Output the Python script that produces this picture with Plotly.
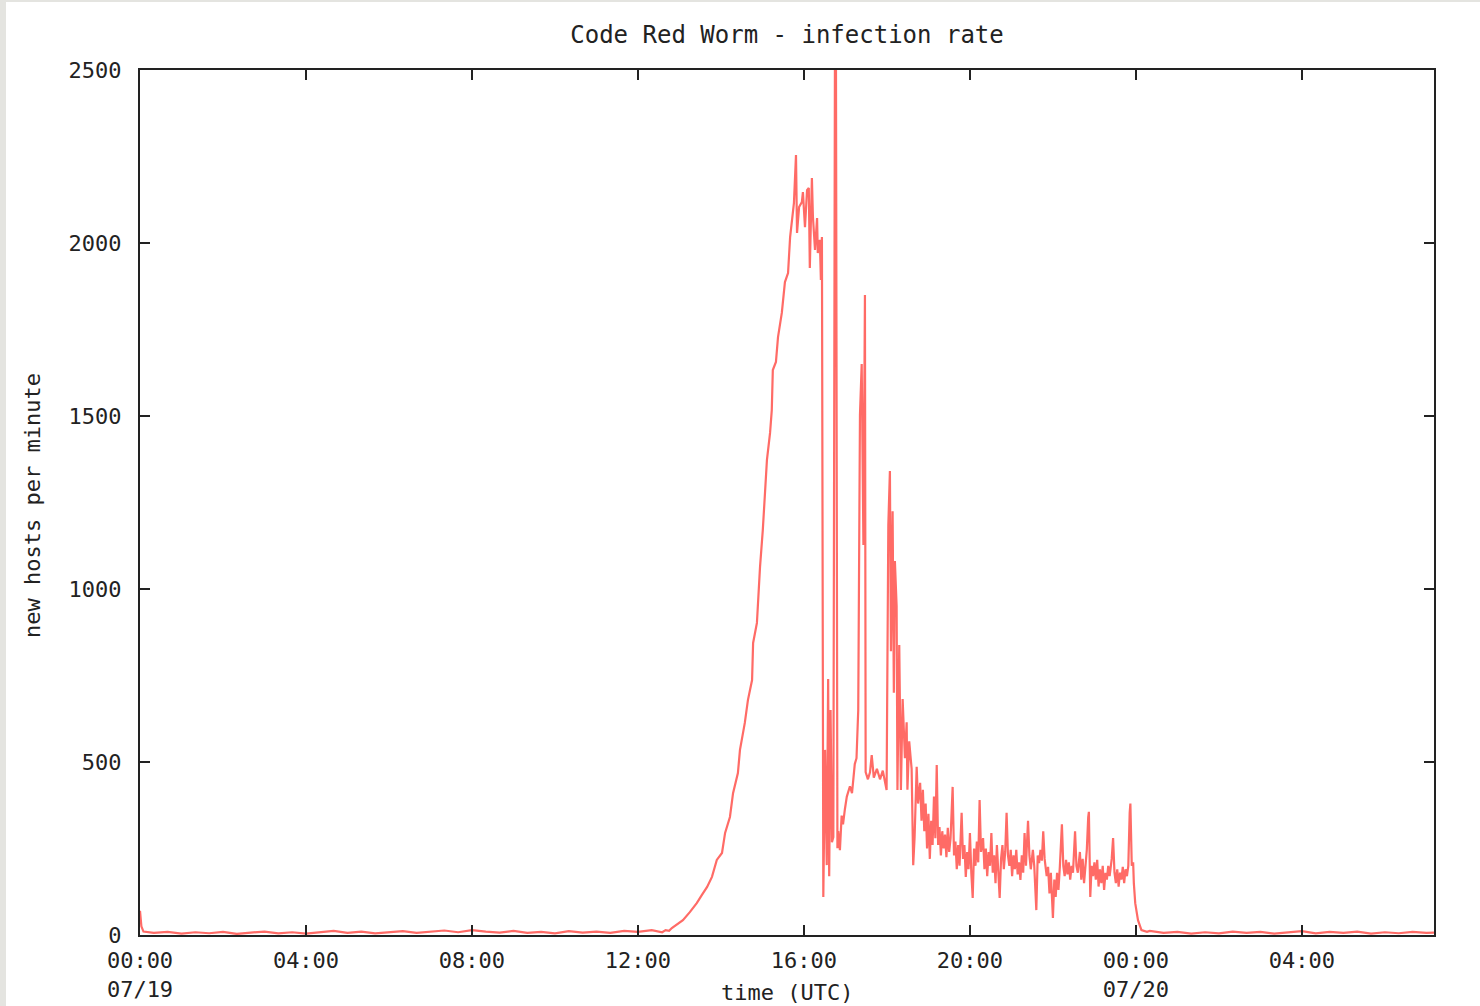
import pandas as pd
import plotly.graph_objects as go

# ---- data: minutes since 2001-07-19 00:00 UTC, new hosts per minute ----
quiet_min = [0, 2, 5, 20, 40, 60, 80, 100, 120, 140, 160, 180, 200, 220, 240, 260, 280, 300,
             320, 340, 360, 380, 400, 420, 440, 460, 480, 500, 520, 540, 560, 580, 600, 620,
             640, 660, 680, 700, 720, 740, 750, 755, 760, 765]
quiet_val = [70, 25, 10, 6, 9, 4, 8, 5, 9, 3, 7, 10, 5, 8, 4, 9, 12, 6,
             10, 5, 8, 11, 6, 9, 13, 8, 14, 10, 7, 12, 6, 9, 5, 11,
             7, 10, 6, 12, 9, 14, 10, 8, 14, 12]

rise_min = [769, 785, 795, 805, 812.5, 820, 827, 834, 841.5, 846, 853, 857.5, 864.5, 867.5,
            874.5, 879, 885, 886.5, 892, 893.5, 896.5, 900.5, 903.5, 906.5, 911, 913.5,
            915, 919.5, 922.5, 928, 932.5, 937, 940]
rise_val = [20, 43, 66, 92, 116, 139, 168, 217, 237, 295, 341, 410, 468, 535,
            613, 679, 737, 844, 902, 968, 1064, 1170, 1277, 1373, 1451, 1517,
            1633, 1656, 1728, 1798, 1887, 1913, 2017]

peak_min = [944, 945.5, 948.5, 950, 953, 957, 958.5, 961.5, 964.5, 967, 968.5, 971.5, 973,
            976, 979, 980, 983, 984.5, 986]
peak_val = [2090, 2115, 2254, 2029, 2104, 2118, 2147, 2046, 2153, 2159, 1928, 2188, 2075,
            1980, 2072, 1971, 2009, 1893, 2017]

spike_min = [986.7, 988, 990.5, 993, 995, 996.5, 998.5, 1000.5, 1002.5, 1004.8, 1006.3,
             1007.3, 1008.4, 1009.6, 1012, 1014.5, 1016.5, 1019.3, 1022, 1026.5, 1029.5,
             1033.5, 1036, 1038.5, 1041, 1043.5, 1046, 1048.2, 1049.2, 1052.5, 1055.5,
             1058, 1061, 1065.5, 1070, 1074, 1079.5, 1082, 1084.3, 1085.8, 1088.2, 1090,
             1091.5, 1094, 1095.2, 1097.8, 1100.2, 1102.7, 1106, 1108.5, 1109.6, 1112.2,
             1115.7]
spike_val = [731, 110, 535, 202, 740, 170, 650, 268, 283, 2520, 2520,
             1225, 251, 300, 245, 345, 320, 365, 400, 430, 410,
             494, 511, 650, 1503, 1650, 1127, 1850, 471, 450, 470,
             520, 455, 480, 450, 475, 419, 1185, 1341, 820, 1225, 700,
             1081, 951, 419, 838, 419, 682, 511, 615, 420, 560,
             480]

decay_min = [1118, 1120, 1123, 1125, 1128, 1130, 1132, 1134, 1136, 1138, 1140, 1142, 1144,
             1146, 1148, 1150, 1152, 1154, 1156, 1158, 1160, 1162, 1164, 1166, 1168, 1170,
             1172, 1175, 1177, 1179, 1181, 1183, 1185, 1188, 1190, 1192, 1194, 1196, 1198,
             1200, 1202, 1204, 1206, 1208, 1210, 1212, 1214, 1216, 1219, 1221, 1223, 1225,
             1227, 1229, 1231, 1233, 1235, 1237, 1239, 1241, 1243, 1245, 1247, 1249, 1251,
             1253, 1255, 1257, 1259, 1261, 1263, 1265, 1267, 1269, 1271, 1273, 1275, 1277,
             1279, 1281, 1284, 1286, 1288, 1291, 1293, 1296, 1298, 1300, 1302, 1304, 1306,
             1308, 1311, 1313, 1315, 1317, 1319, 1320, 1322, 1324, 1326, 1328, 1330, 1333,
             1335, 1337, 1339, 1341, 1343, 1345, 1347, 1349, 1352, 1354, 1356, 1359, 1361,
             1363, 1365, 1367, 1369, 1371, 1372, 1374, 1376, 1378, 1380, 1382, 1384, 1386,
             1388, 1390, 1392, 1394, 1396, 1398, 1400, 1402, 1405, 1407, 1409, 1411, 1413,
             1415, 1417, 1419, 1421, 1423, 1425, 1427, 1429, 1431, 1432, 1434, 1436, 1437,
             1439, 1443, 1448, 1456]
decay_val = [202, 283, 486, 380, 440, 330, 420, 300, 380, 250, 350, 220, 330,
             260, 400, 280, 491, 260, 312, 230, 300, 250, 290, 225, 310, 240,
             280, 428, 230, 270, 190, 260, 200, 353, 220, 260, 168, 240, 190,
             295, 180, 107, 250, 200, 270, 210, 390, 240, 280, 190, 250, 170,
             240, 200, 295, 180, 230, 150, 260, 190, 107, 220, 260, 190, 240,
             353, 230, 200, 246, 170, 230, 190, 246, 175, 210, 159, 230, 180,
             295, 200, 330, 230, 190, 246, 200, 72, 230, 208, 246, 215, 300,
             220, 170, 197, 120, 180, 100, 49, 160, 110, 180, 130, 197, 320,
             200, 170, 217, 175, 210, 160, 200, 180, 300, 200, 180, 240, 160,
             220, 150, 200, 246, 340, 356, 110, 200, 170, 210, 160, 217, 140,
             190, 150, 200, 130, 180, 160, 200, 170, 220, 280, 180, 150, 190,
             140, 180, 160, 197, 150, 190, 170, 200, 353, 380, 200, 210, 150,
             92, 43, 14, 9]

after_min = [1460, 1480, 1500, 1520, 1540, 1560, 1580, 1600, 1620, 1640, 1660, 1680, 1700,
             1720, 1740, 1760, 1780, 1800, 1820, 1840, 1860, 1871]
after_val = [12, 6, 9, 4, 8, 5, 10, 6, 9, 4, 7, 11, 5, 9, 6, 10, 4, 8, 5, 9, 6, 7]

tick_times = ["2001-07-19 00:00", "2001-07-19 04:00", "2001-07-19 08:00", "2001-07-19 12:00",
              "2001-07-19 16:00", "2001-07-19 20:00", "2001-07-20 00:00", "2001-07-20 04:00"]
tick_labels = ["00:00<br>07/19", "04:00", "08:00", "12:00", "16:00", "20:00",
               "00:00<br>07/20", "04:00"]
y_ticks = [0, 500, 1000, 1500, 2000, 2500]

# ---- build series ----
minutes = quiet_min + rise_min + peak_min + spike_min + decay_min + after_min
hosts = quiet_val + rise_val + peak_val + spike_val + decay_val + after_val
times = pd.Timestamp("2001-07-19 00:00") + pd.to_timedelta(minutes, unit="m")

FONT = "DejaVu Sans Mono"
INK = "#222222"
FS = 22

fig = go.Figure(go.Scatter(x=times, y=hosts, mode="lines",
                           line=dict(color="#ff6b66", width=2.2),
                           showlegend=False, hoverinfo="x+y"))

fig.update_layout(
    width=1480, height=1006,
    margin=dict(l=140, r=46, t=70, b=71, autoexpand=False),
    paper_bgcolor="white", plot_bgcolor="white",
    font=dict(family=FONT, size=FS, color=INK),
    title=dict(text="Code Red Worm - infection rate", x=0.5, xref="paper",
               y=1 - 35 / 1006, yref="container", xanchor="center", yanchor="middle",
               font=dict(family=FONT, size=24, color=INK)),
    xaxis=dict(type="date",
               range=["2001-07-19 00:00", "2001-07-20 07:11"],
               tickvals=tick_times, ticktext=tick_labels,
               ticks="inside", ticklen=10, tickwidth=2, tickcolor=INK,
               showline=True, linecolor=INK, linewidth=2, mirror="ticks",
               showgrid=False, zeroline=False, ticklabelstandoff=5,
               tickfont=dict(family=FONT, size=FS, color=INK)),
    yaxis=dict(range=[0, 2500], tickvals=y_ticks,
               ticks="inside", ticklen=10, tickwidth=2, tickcolor=INK,
               showline=True, linecolor=INK, linewidth=2, mirror="ticks",
               showgrid=False, zeroline=False, ticklabelstandoff=12,
               tickfont=dict(family=FONT, size=FS, color=INK)),
    annotations=[
        dict(text="new hosts per minute", textangle=-90, xref="paper", yref="paper",
             x=(32 - 140) / 1294, y=(935 - 505) / 865, showarrow=False,
             xanchor="center", yanchor="middle", font=dict(family=FONT, size=FS, color=INK)),
        dict(text="time (UTC)", xref="paper", yref="paper",
             x=0.5, y=(935 - 992) / 865, showarrow=False,
             xanchor="center", yanchor="middle", font=dict(family=FONT, size=FS, color=INK)),
    ],
    shapes=[
        dict(type="rect", xref="paper", yref="paper", layer="below", line=dict(width=0),
             fillcolor="#e4e4e0", x0=-140 / 1294, x1=(6 - 140) / 1294,
             y0=(935 - 1006) / 865, y1=935 / 865),
        dict(type="rect", xref="paper", yref="paper", layer="below", line=dict(width=0),
             fillcolor="#e4e4e0", x0=-140 / 1294, x1=1340 / 1294,
             y0=(935 - 2) / 865, y1=935 / 865),
    ],
)

fig.write_html("out.html", config={"displayModeBar": False},
               post_script="document.body.style.margin='0';document.body.style.overflow='hidden';")
